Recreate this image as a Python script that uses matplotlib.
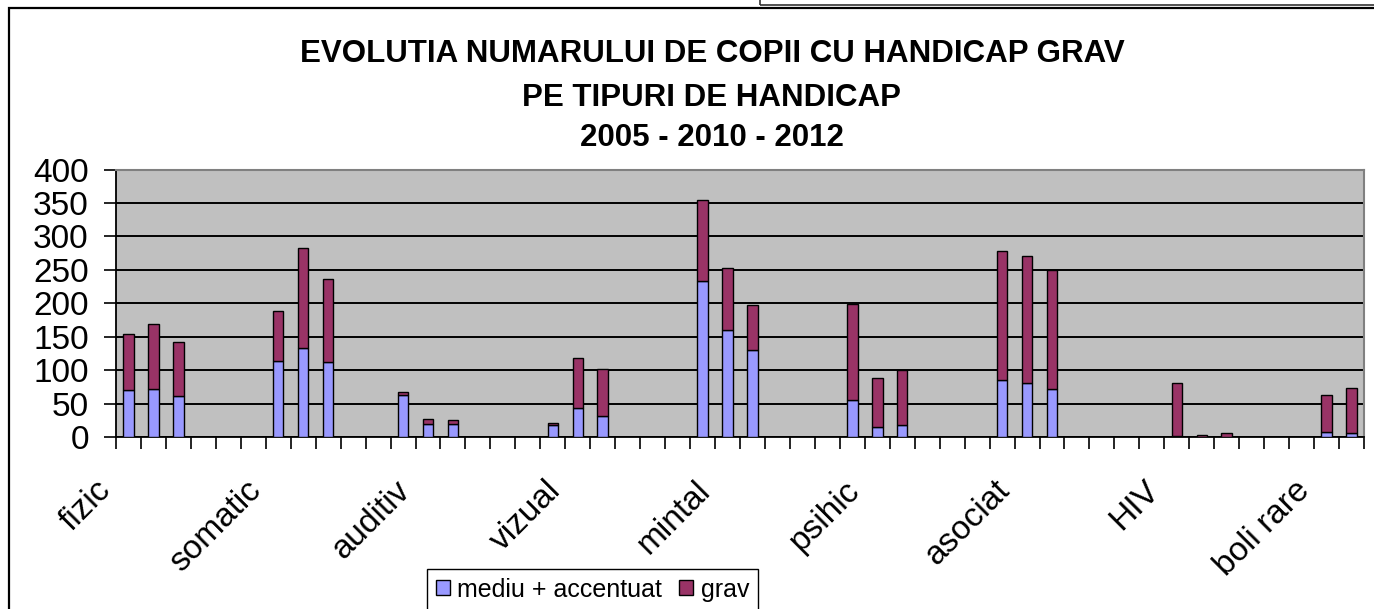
import numpy as np
import matplotlib
matplotlib.use('Agg')
import matplotlib.pyplot as plt
from matplotlib.patches import Patch, Rectangle
from matplotlib.transforms import ScaledTranslation

plt.rcParams['font.family'] = ['Liberation Sans', 'DejaVu Sans']

# one entry per category row of the sheet, None = empty row
mediu = [70, 72, 61, None, None, None,
         114, 133, 112, None, None,
         63, 20, 20, None, None, None,
         18, 44, 32, None, None, None,
         234, 161, 130, None, None, None,
         56, 16, 18, None, None, None,
         86, 81, 72, None, None, None, None,
         2, 0, 0, None, None, None,
         8, 6]
grav = [85, 97, 82, None, None, None,
        75, 150, 124, None, None,
        5, 8, 6, None, None, None,
        3, 75, 70, None, None, None,
        121, 92, 67, None, None, None,
        143, 72, 82, None, None, None,
        193, 190, 178, None, None, None, None,
        79, 4, 7, None, None, None,
        55, 67]

tick_labels = ['fizic', 'somatic', 'auditiv', 'vizual', 'mintal',
               'psihic', 'asociat', 'HIV', 'boli rare']
label_every = 6

series_names = ['mediu + accentuat', 'grav']
colors = ['#9999FF', '#993366']

W, H = 1374, 609
fig = plt.figure(figsize=(W / 100, H / 100), dpi=100)
ax = fig.add_axes([116 / W, 1 - 437.3 / H, (1364 - 116) / W, (437.3 - 169.5) / H])

n = len(mediu)
idx = [i for i in range(n) if mediu[i] is not None]
pos = np.array(idx) + 0.5
m = np.array([mediu[i] for i in idx], dtype=float)
g = np.array([grav[i] for i in idx], dtype=float)

bw = 0.42
ax.bar(pos, m, width=bw, color=colors[0], edgecolor='black', linewidth=1, zorder=3)
ax.bar(pos, g, width=bw, bottom=m, color=colors[1], edgecolor='black', linewidth=1, zorder=3)

ax.set_facecolor('#C0C0C0')
ax.set_xlim(0, n)
ax.set_ylim(0, 400)
ax.set_yticks(np.arange(0, 401, 50))
ax.yaxis.grid(True, color='black', linewidth=1.4, zorder=1)
ax.set_axisbelow(True)

for s in ['top', 'right']:
    ax.spines[s].set_color('#808080')
    ax.spines[s].set_linewidth(1.5)
for s in ['left', 'bottom']:
    ax.spines[s].set_color('black')
    ax.spines[s].set_linewidth(1.3)

ax.tick_params(axis='y', direction='out', length=8.6, width=1.2, pad=11, labelsize=24)

ax.set_xticks(np.arange(0, n + 1))
ax.set_xticklabels([])
ax.tick_params(axis='x', which='major', direction='out', length=8.6, width=1.2)
lab_pos = np.arange(len(tick_labels)) * label_every + 0.5
ax.set_xticks(lab_pos, minor=True)
ax.set_xticklabels(tick_labels, minor=True, rotation=45, ha='right', va='top',
                   rotation_mode='anchor', fontsize=24)
ax.tick_params(axis='x', which='minor', length=0, pad=27)
shift = ScaledTranslation(-33 / 100, 0, fig.dpi_scale_trans)
for t in ax.get_xticklabels(minor=True):
    t.set_transform(t.get_transform() + shift)

# title
titles = ['EVOLUTIA NUMARULUI DE COPII CU HANDICAP GRAV',
          'PE TIPURI DE HANDICAP', '2005 - 2010 - 2012']
for txt, yb in zip(titles, [62, 106, 146]):
    fig.text(712 / W, 1 - yb / H, txt, ha='center', va='baseline',
             fontsize=22.5, fontweight='bold')

handles = [Patch(facecolor=c, edgecolor='black', linewidth=1) for c in colors]
fig.legend(handles, series_names, loc='upper left',
           bbox_to_anchor=(427 / W, 1 - 569 / H), ncol=2, fontsize=18,
           frameon=True, fancybox=False, edgecolor='black', framealpha=1,
           handlelength=0.55, handleheight=0.55, handletextpad=0.3,
           columnspacing=0.7, borderpad=0.35, borderaxespad=0)

# chart frame
fig.patches.append(Rectangle((9 / W, -0.1), 1.2, 1.1 - 8.5 / H, transform=fig.transFigure,
                             fill=False, edgecolor='black', linewidth=1.6))
fig.patches.append(Rectangle((760 / W, 1 - 5 / H), 0.5, 0.1, transform=fig.transFigure,
                             fill=False, edgecolor='#333333', linewidth=1.2))

fig.savefig('out.png', dpi=100)
